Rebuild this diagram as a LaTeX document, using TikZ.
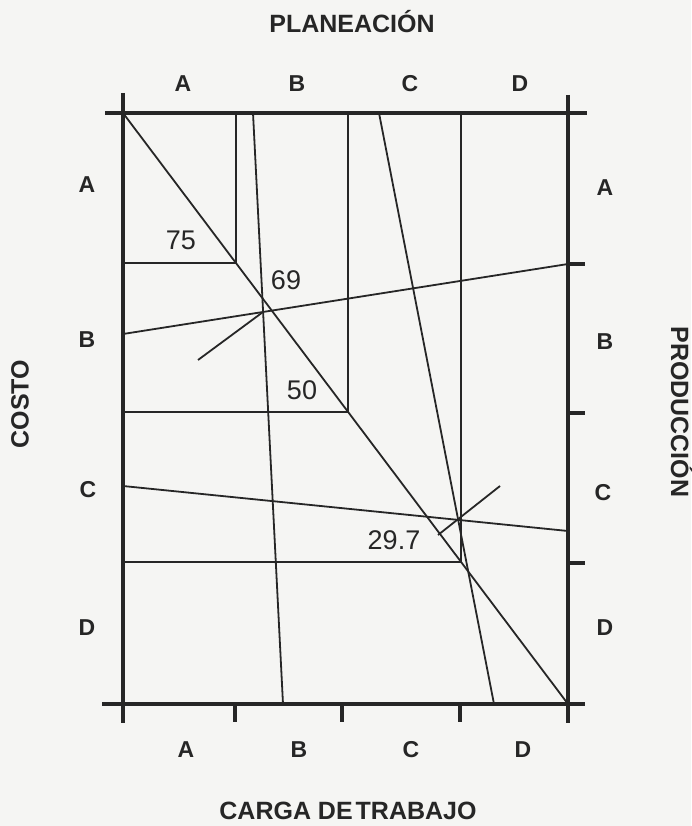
\documentclass[tikz,border=0pt]{standalone}
\usepackage{fontspec}
\setmainfont{Liberation Sans}
\usetikzlibrary{calc}
\definecolor{ink}{HTML}{262626}
\definecolor{paper}{HTML}{F5F5F3}
\begin{document}
\begin{tikzpicture}[x=1pt,y=-1pt,
  frame/.style={line width=3.8pt, draw=ink},
  thinline/.style={line width=1.8pt, draw=ink},
  lbl/.style={text=ink, font=\fontsize{23}{25}\selectfont\bfseries, inner sep=0pt},
  ttl/.style={text=ink, font=\fontsize{25}{28}\selectfont\bfseries, inner sep=0pt},
  num/.style={text=ink, font=\fontsize{27}{30}\selectfont, inner sep=0pt}]
\fill[paper] (0,0) rectangle (691,826);
\useasboundingbox (0,0) rectangle (691,826);

% frame corners
\coordinate (TL) at (123,113);
\coordinate (TR) at (568,113);
\coordinate (BL) at (123,704);
\coordinate (BR) at (568,704);
% frame line ends
\coordinate (topW) at (105,113);
\coordinate (topE) at (587,113);
\coordinate (botW) at (102,704);
\coordinate (botE) at (585,704);
\coordinate (lefN) at (123,93);
\coordinate (lefS) at (123,723);
\coordinate (rigN) at (568,95);
\coordinate (rigS) at (568,723);

% frame
\draw[frame] (topW) -- (topE);
\draw[frame] (botW) -- (botE);
\draw[frame] (lefN) -- (lefS);
\draw[frame] (rigN) -- (rigS);

% bottom ticks
\foreach \x/\n in {235/b1,342/b2,460/b3}{
  \coordinate (\n a) at (\x,704);
  \coordinate (\n b) at (\x,722);
  \draw[frame] (\n a) -- (\n b);
}
% right ticks
\foreach \y/\n in {264/r1,413/r2,563/r3}{
  \coordinate (\n a) at (568,\y);
  \coordinate (\n b) at (585,\y);
  \draw[frame] (\n a) -- (\n b);
}

% main diagonal
\draw[thinline] (TL) -- (BR);

% rectangles with corners on the diagonal
\coordinate (c75) at ($(TL)!0.254!(BR)$);
\coordinate (c50) at ($(TL)!0.506!(BR)$);
\coordinate (c29) at ($(TL)!0.760!(BR)$);
\draw[thinline] (c75 |- TL) -- (c75) -- (c75 -| TL);
\draw[thinline] (c50 |- TL) -- (c50) -- (c50 -| TL);
\draw[thinline] (c29 |- TL) -- (c29) -- (c29 -| TL);

% slanted lines
\coordinate (lbT) at (253,113);
\coordinate (lbB) at (283,704);
\coordinate (lcT) at (379,113);
\coordinate (lcB) at (494,704);
\coordinate (abL) at (123,334);
\coordinate (abR) at (568,264);
\coordinate (ccL) at (123,486);
\coordinate (ccR) at (568,531);
\draw[thinline] (lbT) -- (lbB);
\draw[thinline] (lcT) -- (lcB);
\draw[thinline] (abL) -- (abR);
\draw[thinline] (ccL) -- (ccR);

% short crossing marks
\coordinate (x69) at (263,312);
\coordinate (s1) at (198,360);
\draw[thinline] (s1) -- (x69);
\coordinate (s2a) at (438,535);
\coordinate (s2b) at (500,486);
\draw[thinline] (s2a) -- (s2b);

% numbers
\node[num] (n75) at (181,240) {75};
\node[num] (n69) at (286,280) {69};
\node[num] (n50) at (302,390) {50};
\node[num] (n297) at (394,540) {29.7};

% titles
\node[ttl] (tPlan) at (352,22) {PLANEACIÓN};
\node[ttl] (tCarga) at (348,811) {CARGA DE\hspace{0.12em}TRABAJO};
\node[ttl, rotate=90] (tCosto) at (20,404) {COSTO};
\node[ttl, rotate=-90] (tProd) at (682,412) {PRODUCCIÓN};

% top letters
\node[lbl] (pA) at (183,84) {A};
\node[lbl] (pB) at (297,84) {B};
\node[lbl] (pC) at (410,84) {C};
\node[lbl] (pD) at (520,84) {D};
% bottom letters
\node[lbl] (cA) at (186,750) {A};
\node[lbl] (cB) at (299,750) {B};
\node[lbl] (cC) at (411,750) {C};
\node[lbl] (cD) at (523,750) {D};
% left letters
\node[lbl] (kA) at (87,185) {A};
\node[lbl] (kB) at (87,340) {B};
\node[lbl] (kC) at (88,490) {C};
\node[lbl] (kD) at (87,628) {D};
% right letters
\node[lbl] (qA) at (605,188) {A};
\node[lbl] (qB) at (605,342) {B};
\node[lbl] (qC) at (603,493) {C};
\node[lbl] (qD) at (605,628) {D};
\end{tikzpicture}
\end{document}
